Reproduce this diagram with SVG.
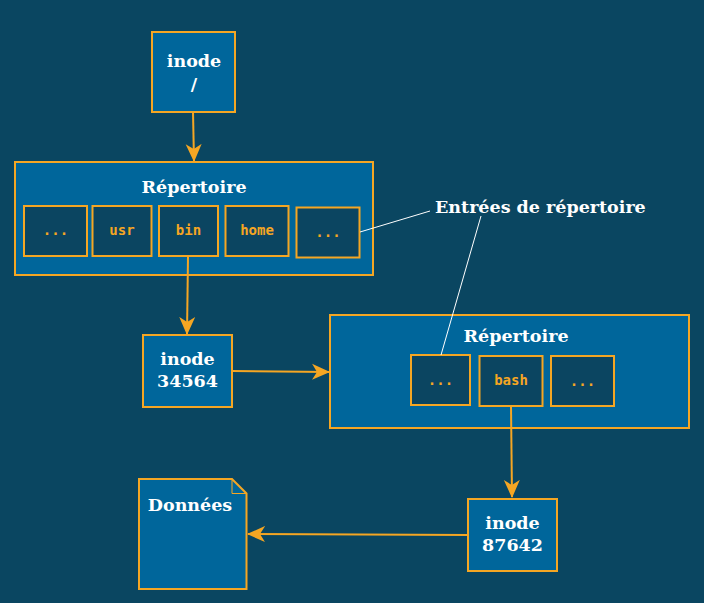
<svg xmlns="http://www.w3.org/2000/svg" width="704" height="603" viewBox="0 0 704 603">
<defs>
<style>
.node{fill:#00669b;stroke:#f5a623;stroke-width:2}
.entry{fill:#0b4561;stroke:#f5a623;stroke-width:2}
.lbl{font-family:"DejaVu Serif",serif;font-weight:bold;font-size:17.5px;fill:#ffffff;text-anchor:middle}
.mono{font-family:"DejaVu Sans Mono",monospace;font-weight:bold;font-size:14px;fill:#f5a623;text-anchor:middle}
.conn{stroke:#f5a623;stroke-width:2;fill:none}
.note{stroke:#ffffff;stroke-width:1;fill:none}
</style>
<marker id="arr" viewBox="0 0 18 18" refX="17" refY="9" markerWidth="18" markerHeight="18" markerUnits="userSpaceOnUse" orient="auto">
<path d="M0,1 L18,9 L0,17 L5,9 Z" fill="#f5a623"/>
</marker>
</defs>
<rect width="704" height="603" fill="#0a4661"/>

<g id="inode-root">
<rect class="node" x="152" y="32" width="83" height="80"/>
<text class="lbl" x="194" y="67">inode</text>
<text class="lbl" x="194" y="90">/</text>
</g>

<g id="rep1">
<rect class="node" x="15" y="162" width="358" height="113"/>
<text class="lbl" x="194" y="193">Répertoire</text>
<g id="rep1-dots1"><rect class="entry" x="24" y="206" width="63" height="50"/><text class="mono" x="55.5" y="235">...</text></g>
<g id="rep1-usr"><rect class="entry" x="92.5" y="206" width="59" height="50"/><text class="mono" x="122" y="235">usr</text></g>
<g id="rep1-bin"><rect class="entry" x="159" y="206" width="59" height="50"/><text class="mono" x="188.5" y="235">bin</text></g>
<g id="rep1-home"><rect class="entry" x="225.5" y="206" width="63" height="50"/><text class="mono" x="257" y="235">home</text></g>
<g id="rep1-dots2"><rect class="entry" x="296.5" y="207.5" width="63" height="50"/><text class="mono" x="328" y="237">...</text></g>
</g>

<g id="entries-label">
<text class="lbl" x="435" y="213" style="text-anchor:start">Entrées de répertoire</text>
</g>

<g id="inode-34564">
<rect class="node" x="143" y="335" width="89" height="72"/>
<text class="lbl" x="187.5" y="365">inode</text>
<text class="lbl" x="187.5" y="387">34564</text>
</g>

<g id="rep2">
<rect class="node" x="330" y="315" width="359" height="113"/>
<text class="lbl" x="516" y="342">Répertoire</text>
<g id="rep2-dots1"><rect class="entry" x="411" y="355" width="59" height="50"/><text class="mono" x="440.5" y="385">...</text></g>
<g id="rep2-bash"><rect class="entry" x="479.5" y="356" width="63" height="50"/><text class="mono" x="511" y="385">bash</text></g>
<g id="rep2-dots2"><rect class="entry" x="551" y="356" width="63" height="50"/><text class="mono" x="582.5" y="386">...</text></g>
</g>

<g id="inode-87642">
<rect class="node" x="468" y="499" width="89" height="72"/>
<text class="lbl" x="512.5" y="529">inode</text>
<text class="lbl" x="512.5" y="551">87642</text>
</g>

<g id="donnees">
<path class="node" d="M139,479 L232,479 L246.5,493.5 L246.5,589 L139,589 Z"/>
<path d="M232,479 L232,493.5 L246.5,493.5" fill="none" stroke="#f5a623" stroke-width="1"/>
<text class="lbl" x="190" y="511">Données</text>
</g>

<g id="connectors">
<line class="conn" x1="193" y1="112" x2="194" y2="161" marker-end="url(#arr)"/>
<line class="conn" x1="188" y1="256" x2="187" y2="334" marker-end="url(#arr)"/>
<line class="conn" x1="232" y1="371" x2="329" y2="372" marker-end="url(#arr)"/>
<line class="conn" x1="511" y1="406" x2="512" y2="497" marker-end="url(#arr)"/>
<line class="conn" x1="468" y1="535" x2="248" y2="534" marker-end="url(#arr)"/>
<line class="note" x1="360" y1="232" x2="430" y2="211"/>
<line class="note" x1="481" y1="216" x2="441" y2="355"/>
</g>
</svg>
